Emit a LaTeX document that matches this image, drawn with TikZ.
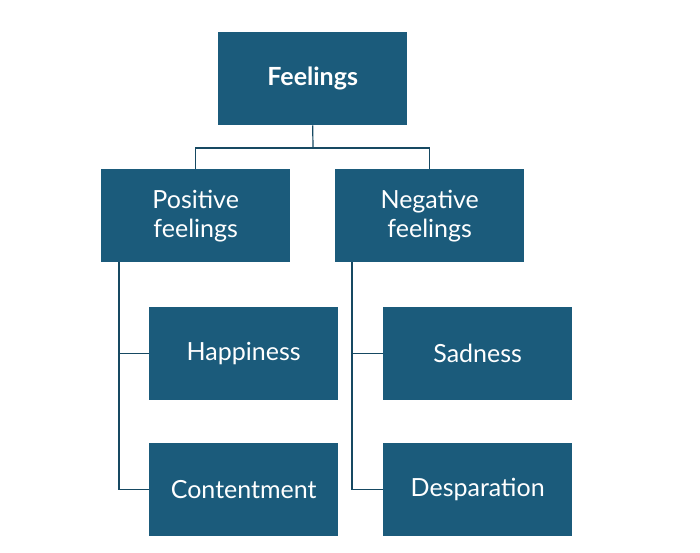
\documentclass[tikz,border=0pt]{standalone}
\usepackage{fontspec}
\setmainfont{Lato}
\begin{document}
\begin{tikzpicture}[x=1pt,y=-1pt,
  box/.style={fill=boxc,text=white,minimum width=189pt,minimum height=93pt,inner sep=0pt,font=\fontsize{25}{29}\selectfont,align=center,anchor=north west},
  ln/.style={draw=boxc!80!black,line width=1.2pt}]
\definecolor{boxc}{HTML}{1B5B7B}
\useasboundingbox (0,0) rectangle (700,552);
\node[box,font=\fontsize{25}{29}\selectfont\bfseries] (f) at (218,32) {Feelings};
\node[box] (p) at (101,169) {Positive\\feelings};
\node[box] (n) at (335,169) {Negative\\feelings};
\node[box] (h) at (149,307) {Happiness};
\node[box] (s) at (383,307) {Sadness};
\node[box] (c) at (149,443) {Contentment};
\node[box] (d) at (383,443) {Desparation};
\coordinate (j) at (313,148);
\draw[ln] (f.south) -- (j);
\draw[ln] (p.north) |- (j) -| (n.north);
\draw[ln] (p.south west) ++(18,0) coordinate (pa) |- (h.west);
\draw[ln] (pa) |- (c.west);
\draw[ln] (n.south west) ++(17,0) coordinate (na) |- (s.west);
\draw[ln] (na) |- (d.west);
\end{tikzpicture}
\end{document}
